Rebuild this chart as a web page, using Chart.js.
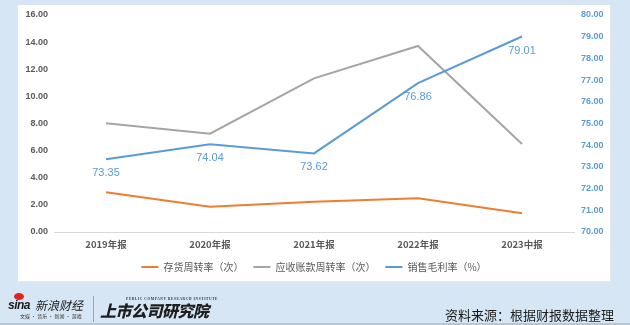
<!DOCTYPE html>
<html>
<head>
<meta charset="utf-8">
<script src="https://cdn.jsdelivr.net/npm/chart.js@4/dist/chart.umd.min.js"></script>
<style>
  html, body { margin: 0; padding: 0; }
  body { width: 630px; height: 325px; position: relative; overflow: hidden; background: #d6e6f4; font-family: "Noto Sans CJK SC", sans-serif; }
  #wrap { position: absolute; left: 0; top: 0; width: 630px; height: 325px; }
  .abs { position: absolute; white-space: nowrap; }
</style>
</head>
<body>
<div id="wrap"><canvas id="chart" width="630" height="325"></canvas></div>

<span class="abs" style="left:14px;top:293px;width:10px;height:7px;border-radius:50%;background:#e2231a;"></span>
<span class="abs" style="left:8px;top:298px;font:italic bold 12px 'Liberation Sans';color:#1a1a1a;letter-spacing:-0.5px;">sina</span>
<span class="abs" style="left:35px;top:296px;font:italic 12px 'Noto Sans CJK SC';color:#222;">新浪财经</span>
<span class="abs" style="left:20px;top:312px;font:5px 'Noto Sans CJK SC';color:#333;">文娱 · 音乐 · 新闻 · 游戏</span>
<span class="abs" style="left:93px;top:296px;width:1px;height:26px;background:#9aa4ad;"></span>
<span class="abs" style="left:126px;top:297px;font:bold 3.5px 'Liberation Serif';color:#333;letter-spacing:0.6px;">PUBLIC COMPANY RESEARCH INSTITUTE</span>
<span class="abs" style="left:100px;top:298px;font:italic 900 16px 'Noto Sans CJK SC';color:#1e1e1e;letter-spacing:-0.5px;">上市公司研究院</span>
<span class="abs" style="left:445px;top:305px;font:13px 'Noto Sans CJK SC';color:#1a1a1a;">资料来源：根据财报数据整理</span>
<span class="abs" style="left:0;top:323px;width:630px;height:2px;background:#b9c6d1;"></span>

<script>
const categories = ['2019年报', '2020年报', '2021年报', '2022年报', '2023中报'];
const inventoryTurnover = [2.93, 1.87, 2.23, 2.48, 1.38];
const receivableTurnover = [8.02, 7.25, 11.33, 13.72, 6.49];
const grossMargin = [73.35, 74.04, 73.62, 76.86, 79.01];
const seriesNames = ['存货周转率（次）', '应收账款周转率（次）', '销售毛利率（%）'];
const leftAxisRange = [0, 16, 2];
const rightAxisRange = [70, 80, 1];

// page background and the white panel behind the chart
const panel = {
  id: 'panel',
  beforeDraw(chart) {
    const ctx = chart.ctx;
    ctx.save();
    ctx.fillStyle = '#d6e6f4';
    ctx.fillRect(0, 0, chart.width, chart.height);
    ctx.fillStyle = '#e3e8ec';
    ctx.fillRect(18, 5, 593, 277);
    ctx.fillStyle = '#ffffff';
    ctx.fillRect(18, 5, 592, 276);
    ctx.restore();
  }
};

// value labels under the gross margin line
const marginLabels = {
  id: 'marginLabels',
  afterDatasetsDraw(chart) {
    const ctx = chart.ctx;
    const meta = chart.getDatasetMeta(2);
    ctx.save();
    ctx.font = '11px "Liberation Sans"';
    ctx.fillStyle = '#5b9bd5';
    ctx.textAlign = 'center';
    ctx.textBaseline = 'middle';
    meta.data.forEach((pt, i) => {
      ctx.fillText(grossMargin[i].toFixed(2), pt.x, pt.y + 14);
    });
    ctx.restore();
  }
};

new Chart(document.getElementById('chart'), {
  type: 'line',
  data: {
    labels: categories,
    datasets: [
      { label: seriesNames[0], data: inventoryTurnover, yAxisID: 'y', borderColor: '#ed7d31', backgroundColor: '#ed7d31', borderWidth: 2, order: 2 },
      { label: seriesNames[1], data: receivableTurnover, yAxisID: 'y', borderColor: '#a5a5a5', backgroundColor: '#a5a5a5', borderWidth: 2, order: 1 },
      { label: seriesNames[2], data: grossMargin, yAxisID: 'y1', borderColor: '#5b9bd5', backgroundColor: '#5b9bd5', borderWidth: 2, order: 0 },
    ],
  },
  options: {
    responsive: false,
    animation: false,
    devicePixelRatio: 1,
    elements: { point: { radius: 0 }, line: { tension: 0 } },
    layout: { padding: { left: 18, right: 20, top: 15, bottom: 43 } },
    plugins: {
      tooltip: { enabled: false },
      legend: {
        position: 'bottom',
        labels: {
          usePointStyle: true,
          pointStyle: 'line',
          pointStyleWidth: 17,
          padding: 10,
          color: '#595959',
          font: { family: 'Noto Sans CJK SC', size: 10 },
          sort: (a, b) => a.datasetIndex - b.datasetIndex,
        },
      },
    },
    scales: {
      x: {
        offset: true,
        grid: { display: false, drawTicks: false, offset: true },
        border: { display: true, color: '#d9d9d9', width: 1 },
        ticks: { padding: 7, color: '#595959', font: { family: 'Noto Sans CJK SC', size: 9.5, weight: 'bold' } },
        afterFit(scale) { scale.height = 20; },
      },
      y: {
        position: 'left',
        min: leftAxisRange[0],
        max: leftAxisRange[1],
        grid: { display: false, drawTicks: false },
        border: { display: false },
        ticks: {
          stepSize: leftAxisRange[2],
          padding: 6,
          color: '#595959',
          font: { family: 'Liberation Sans', size: 9, weight: 'bold' },
          callback: (v) => v.toFixed(2),
        },
        afterFit(scale) { scale.width = 36; },
      },
      y1: {
        position: 'right',
        min: rightAxisRange[0],
        max: rightAxisRange[1],
        grid: { display: false, drawTicks: false },
        border: { display: false },
        ticks: {
          stepSize: rightAxisRange[2],
          padding: 7,
          color: '#5b9bd5',
          font: { family: 'Liberation Sans', size: 9, weight: 'bold' },
          callback: (v) => v.toFixed(2),
        },
        afterFit(scale) { scale.width = 36; },
      },
    },
  },
  plugins: [panel, marginLabels],
});
</script>
</body>
</html>
